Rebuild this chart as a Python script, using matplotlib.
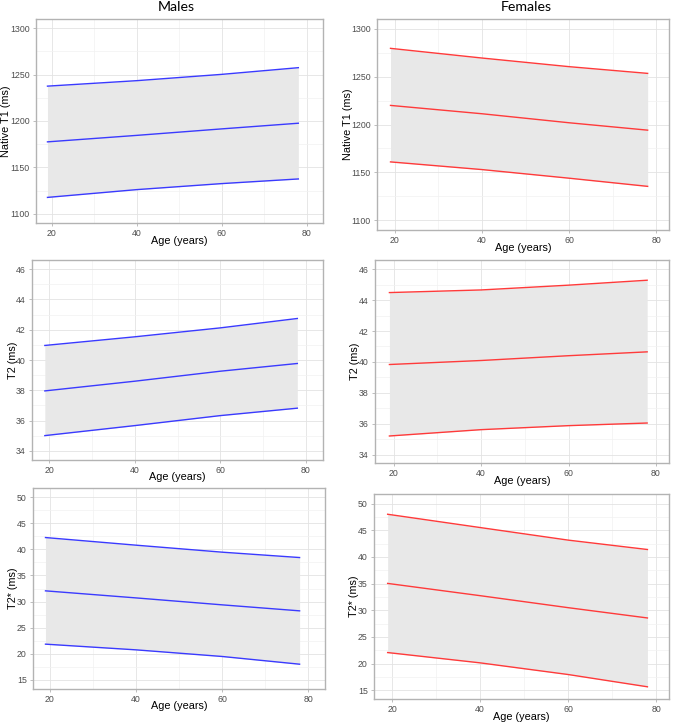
import numpy as np
import matplotlib
matplotlib.use("Agg")
import matplotlib.pyplot as plt
from matplotlib.ticker import MultipleLocator

# ages at which the reference curves were read
age = [19, 40, 60, 78]

# Native T1 (ms)
t1_m_lo = [1117.6, 1126.0, 1132.5, 1137.5]
t1_m_mid = [1177.5, 1184.5, 1191.5, 1197.6]
t1_m_hi = [1237.6, 1243.5, 1250.3, 1257.5]
t1_f_lo = [1161.0, 1153.0, 1144.0, 1135.5]
t1_f_mid = [1219.9, 1211.2, 1201.8, 1194.1]
t1_f_hi = [1279.4, 1269.3, 1260.3, 1253.3]

# T2 (ms)
t2_m_lo = [35.01, 35.67, 36.33, 36.82]
t2_m_mid = [37.96, 38.60, 39.26, 39.77]
t2_m_hi = [40.96, 41.53, 42.12, 42.74]
t2_f_lo = [35.20, 35.61, 35.87, 36.04]
t2_f_mid = [39.83, 40.09, 40.40, 40.65]
t2_f_hi = [44.49, 44.66, 44.97, 45.29]

# T2* (ms)
t2s_m_lo = [21.84, 20.75, 19.48, 18.00]
t2s_m_mid = [32.05, 30.70, 29.37, 28.22]
t2s_m_hi = [42.26, 40.80, 39.46, 38.43]
t2s_f_lo = [22.06, 20.13, 17.94, 15.64]
t2s_f_mid = [35.03, 32.73, 30.48, 28.55]
t2s_f_hi = [48.00, 45.51, 43.15, 41.39]

x_ticks = [20, 40, 60, 80]

W, H = 676, 724
fig = plt.figure(figsize=(W / 100, H / 100), dpi=100)
plt.rcParams['font.family'] = ['Liberation Sans', 'DejaVu Sans']


def panel(rect, xlab_y, ylab_x, lo, mid, hi, color, ylab, ylim, ymajor, xlim):
    l, t, r, b = rect
    ax = fig.add_axes([l / W, 1 - b / H, (r - l) / W, (b - t) / H])
    ax.fill_between(age, lo, hi, color='#e8e8e8', lw=0, zorder=2)
    for s in (lo, mid, hi):
        ax.plot(age, s, color=color, lw=1.0, zorder=3)
    ax.set_xlim(*xlim)
    ax.set_ylim(*ylim)
    ax.set_xticks(x_ticks)
    ax.yaxis.set_major_locator(MultipleLocator(ymajor))
    ax.xaxis.set_minor_locator(MultipleLocator(10))
    ax.yaxis.set_minor_locator(MultipleLocator(ymajor / 2))
    ax.grid(which='major', color='#e3e3e3', lw=0.6, zorder=0)
    ax.grid(which='minor', color='#f2f2f2', lw=0.5, zorder=0)
    ax.set_axisbelow(True)
    for sp in ax.spines.values():
        sp.set_color('#b3b3b3')
        sp.set_linewidth(1.0)
    ax.tick_params(which='major', length=2.5, width=0.6, color='#b3b3b3',
                   labelsize=6.3, labelcolor='#4d4d4d', pad=2)
    ax.tick_params(which='minor', length=0)
    ax.set_xlabel('Age (years)', fontsize=7.8, va='center')
    ax.set_ylabel(ylab, fontsize=7.8, va='center')
    ax.xaxis.set_label_coords(0.5, (b - xlab_y) / (b - t))
    ax.yaxis.set_label_coords((ylab_x - l) / (r - l), 0.5)
    return ax


blue = '#3a3aff'
red = '#ff3a3a'

panel((36, 19, 323, 223), 241, 6.5, t1_m_lo, t1_m_mid, t1_m_hi, blue,
      'Native T1 (ms)', (1090, 1310), 50, (16.3, 83.8))
panel((377, 19, 669, 230), 248, 348, t1_f_lo, t1_f_mid, t1_f_hi, red,
      'Native T1 (ms)', (1090, 1310), 50, (15.9, 82.9))
panel((32, 260, 323, 460), 477, 12.5, t2_m_lo, t2_m_mid, t2_m_hi, blue,
      'T2 (ms)', (33.4, 46.6), 2, (16.0, 84.0))
panel((375, 260, 669, 463), 481.5, 354.5, t2_f_lo, t2_f_mid, t2_f_hi, red,
      'T2 (ms)', (33.45, 46.6), 2, (15.7, 83.0))
panel((33, 488, 325, 689), 706, 12.8, t2s_m_lo, t2s_m_mid, t2s_m_hi, blue,
      'T2* (ms)', (13.25, 51.75), 5, (16.1, 83.9))
panel((374, 494, 669, 699), 717.5, 353.5, t2s_f_lo, t2s_f_mid, t2s_f_hi, red,
      'T2* (ms)', (13.35, 51.8), 5, (15.9, 82.9))

fig.text(176 / W, 1 - 11 / H, 'Males', ha='center', va='baseline',
         fontsize=10.2, family=['Lato', 'DejaVu Sans'])
fig.text(526 / W, 1 - 11 / H, 'Females', ha='center', va='baseline',
         fontsize=10.2, family=['Lato', 'DejaVu Sans'])

fig.savefig('out.png', dpi=100, facecolor='white')
